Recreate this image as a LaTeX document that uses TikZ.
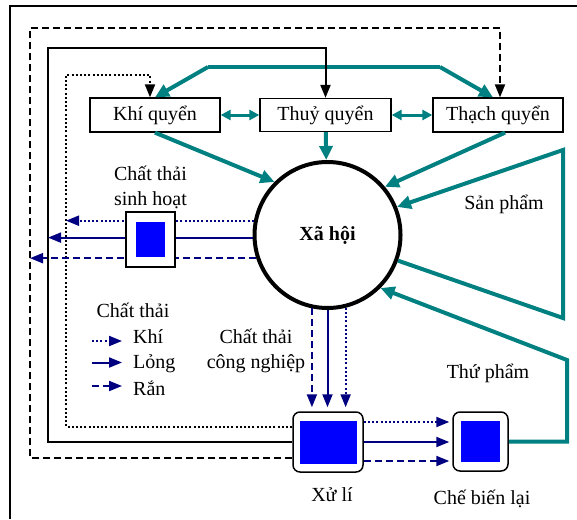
\documentclass[tikz,border=0pt]{standalone}
\usepackage{fontspec}
\setmainfont{Liberation Serif}
\usetikzlibrary{arrows.meta}
\definecolor{flowteal}{RGB}{0,128,128}
\definecolor{wastenavy}{RGB}{0,0,128}

\begin{document}
\begin{tikzpicture}[x=1pt,y=-1pt,
font=\fontsize{20}{25}\selectfont,
sphere/.style={draw,line width=1.3pt,minimum width=130pt,minimum height=34pt,inner sep=0pt},
plant/.style={draw,line width=1.5pt,fill=white,rounded corners=7pt},
core/.style={fill=blue,inner sep=0pt},
flow/.style={draw=flowteal,line width=4pt,-{Triangle[length=14pt,width=13pt]}},
swap/.style={draw=flowteal,line width=3pt,{Triangle[length=10pt,width=10pt]}-{Triangle[length=10pt,width=10pt]}},
waste/.style={draw=wastenavy,line width=2pt,-{Triangle[length=13pt,width=10pt]}},
back/.style={line width=2pt,-{Triangle[length=13pt,width=10pt]}},
dotline/.style={dash pattern=on 2pt off 2.2pt},
dashline/.style={dash pattern=on 7pt off 4pt}
]
\useasboundingbox (0,0) rectangle (577,519);
\draw[line width=2pt] (10,519) -- (10,6) -- (577,6);

\node[sphere] (khi) at (155,115) {Khí quyển};
\node[sphere,minimum width=131pt,minimum height=33pt] (thuy) at (325.5,115) {Thuỷ quyển};
\node[sphere] (thach) at (498,115) {Thạch quyển};
\node[circle,draw,line width=4pt,minimum size=146pt,font=\fontsize{20}{24}\selectfont\bfseries] (xahoi) at (327.5,235) {Xã hội};

\node[plant,minimum width=70pt,minimum height=60pt] (xuli) at (328,442) {};
\node[core,minimum width=57pt,minimum height=43pt] (xulicore) at (xuli) {};
\node[plant,minimum width=55pt,minimum height=59pt] (chebien) at (480.5,441.5) {};
\node[core,minimum width=39pt,minimum height=41pt] (chebiencore) at (chebien) {};

\coordinate (dotc) at (66,75);
\coordinate (solc) at (48,48);
\coordinate (dashc) at (30,28);
\coordinate (split) at (208,67);
\coordinate (splitr) at (440,67);
\coordinate (sp1) at (563,318);
\coordinate (sp2) at (563,150);
\coordinate (tp) at (567,360);

% teal flows
\draw[flow,-] (split) -- (splitr);
\draw[flow] (split) -- (khi.north);
\draw[flow] (splitr) -- ([xshift=-5pt]thach.north);
\draw[swap] (khi.east) -- (khi.east -| thuy.west);
\draw[swap] (thuy.east) -- (thuy.east -| thach.west);
\draw[flow] (thuy) -- (xahoi);
\draw[flow] (khi.south) -- (xahoi.135);
\draw[flow] ([xshift=7pt]thach.south) -- (xahoi.40);
\draw[flow] (xahoi.-20) -- (sp1) -- (sp2) -- (xahoi.22);
\draw[flow] (chebien.east) -| (tp) -- (xahoi.-45);

% returns from treatment
\draw[back,dotline] ([yshift=15pt]xuli.west) -| (dotc) -| ([xshift=-5pt]khi.north);
\draw[back] (xuli.west) -| (solc) -| (thuy.north);
\draw[back,dashline] ([yshift=-16pt]xuli.west) -| (dashc) -| ([xshift=2pt]thach.north);

% household waste
\draw[waste,dotline] (xahoi.169) -- (xahoi.169 -| dotc);
\draw[waste] (xahoi.182) -- (xahoi.182 -| solc);
\draw[waste,dashline] (xahoi.198) -- (xahoi.198 -| dashc);
\node[draw,line width=1.5pt,fill=white,minimum width=49pt,minimum height=55pt] (sinhhoat) at (150.5,239.5) {};
\node[core,minimum width=29pt,minimum height=35pt] (sinhhoatcore) at (sinhhoat) {};

% industrial waste
\draw[waste,dashline,shorten >=4pt] (xahoi.258) -- (xahoi.258 |- xuli.north);
\draw[waste,shorten >=4pt] (xahoi.270) -- (xahoi.270 |- xuli.north);
\draw[waste,dotline,shorten >=4pt] (xahoi.284) -- (xahoi.284 |- xuli.north);

\draw[waste,dotline,shorten >=3pt] ([yshift=20pt]xuli.east) -- ([yshift=20pt]xuli.east -| chebien.west);
\draw[waste,shorten >=3pt] (xuli.east) -- (xuli.east -| chebien.west);
\draw[waste,dashline,shorten >=3pt] ([yshift=-19pt]xuli.east) -- ([yshift=-19pt]xuli.east -| chebien.west);

\node[align=center,anchor=base] (lblsinh) at (150.5,205) {Chất thải\\sinh hoạt};
\node[align=center,anchor=base] (lblcn) at (256,368) {Chất thải\\công nghiệp};
\node[anchor=base] (lblsp) at (504,209) {Sản phẩm};
\node[anchor=base] (lbltp) at (488,378) {Thứ phẩm};
\node[anchor=base] (lblxl) at (332,501) {Xử lí};
\node[anchor=base] (lblcb) at (482,504) {Chế biến lại};

% legend
\node[anchor=base] (lgtitle) at (133,317) {Chất thải};
\node[anchor=base west,inner sep=0pt] (lgkhi) at (133,343) {Khí};
\node[anchor=base west,inner sep=0pt] (lglong) at (133,368.5) {Lỏng};
\node[anchor=base west,inner sep=0pt] (lgran) at (133,395) {Rắn};
\draw[waste,dotline] ([xshift=-41pt,yshift=2pt]lgkhi.base west) -- ++(30,0);
\draw[waste] ([xshift=-41pt,yshift=6pt]lglong.base west) -- ++(30,0);
\draw[waste,dashline] ([xshift=-41pt,yshift=9pt]lgran.base west) -- ++(30,0);
\end{tikzpicture}
\end{document}
